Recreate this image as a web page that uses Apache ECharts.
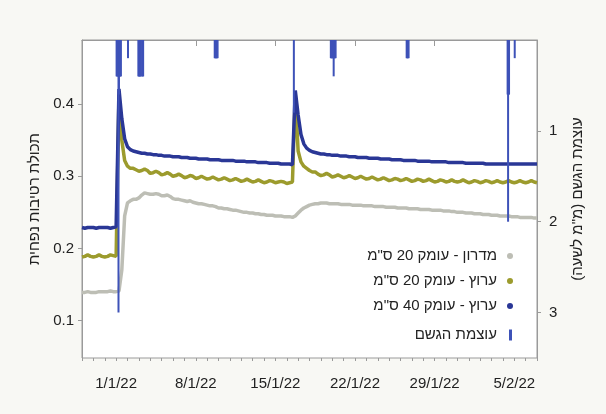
<!DOCTYPE html>
<html><head><meta charset="utf-8">
<script src="https://cdn.jsdelivr.net/npm/echarts/dist/echarts.min.js"></script>
<style>html,body{margin:0;padding:0;background:#f8f8f4;}#c{width:606px;height:414px;}</style>
</head><body><div id="c"></div>
<script>
// 6-hourly samples starting 29/12/2021 00:00 (00,06,12,18 each day), last sample 7/2/2022 00:00
const seriesNames = ['מדרון - עומק 20 ס"מ', 'ערוץ - עומק 20 ס"מ', 'ערוץ - עומק 40 ס"מ'];
const rainName = 'עוצמת הגשם';

const slope20 = [
0.139,0.139,0.140,0.139, 0.139,0.139,0.140,0.140, 0.140,0.140,0.141,0.140,
0.140,0.141,0.170,0.245, 0.263,0.266,0.268,0.268, 0.270,0.274,0.277,0.276,
0.275,0.275,0.276,0.275, 0.273,0.273,0.274,0.272, 0.269,0.268,0.268,0.267,
0.266,0.265,0.266,0.264, 0.263,0.262,0.262,0.261, 0.260,0.259,0.259,0.258,
0.256,0.256,0.255,0.255, 0.254,0.253,0.253,0.252, 0.251,0.250,0.250,0.249,
0.249,0.248,0.248,0.247, 0.247,0.246,0.246,0.246, 0.245,0.245,0.245,0.244,
0.244,0.244,0.243,0.245, 0.249,0.253,0.256,0.258, 0.260,0.261,0.262,0.262,
0.263,0.263,0.263,0.262, 0.262,0.262,0.262,0.261, 0.261,0.261,0.261,0.260,
0.260,0.260,0.260,0.259, 0.259,0.259,0.259,0.258, 0.258,0.258,0.258,0.257,
0.257,0.257,0.257,0.256, 0.256,0.256,0.256,0.255, 0.255,0.255,0.255,0.254,
0.254,0.254,0.254,0.253, 0.253,0.253,0.253,0.252, 0.252,0.252,0.251,0.251,
0.250,0.250,0.250,0.249, 0.249,0.249,0.248,0.248, 0.248,0.247,0.247,0.247,
0.246,0.246,0.246,0.245, 0.245,0.245,0.245,0.244, 0.244,0.244,0.243,0.243,
0.243,0.243,0.243,0.242, 0.242];

const channel20 = [
0.188,0.189,0.191,0.189, 0.188,0.189,0.191,0.189, 0.188,0.189,0.191,0.190,
0.189,0.413,0.350,0.322, 0.314,0.311,0.311,0.309, 0.307,0.308,0.310,0.308,
0.304,0.305,0.307,0.305, 0.302,0.303,0.305,0.303, 0.300,0.301,0.303,0.301,
0.298,0.299,0.301,0.300, 0.297,0.298,0.300,0.298, 0.296,0.297,0.299,0.297,
0.295,0.296,0.298,0.296, 0.294,0.295,0.297,0.295, 0.293,0.294,0.296,0.294,
0.292,0.293,0.295,0.293, 0.291,0.292,0.294,0.293, 0.291,0.292,0.293,0.292,
0.290,0.291,0.292,0.413, 0.335,0.320,0.314,0.311, 0.308,0.306,0.306,0.303,
0.301,0.302,0.304,0.302, 0.299,0.300,0.302,0.300, 0.298,0.299,0.301,0.299,
0.297,0.298,0.300,0.298, 0.296,0.297,0.299,0.297, 0.295,0.296,0.298,0.296,
0.294,0.295,0.297,0.296, 0.294,0.295,0.297,0.295, 0.293,0.294,0.296,0.295,
0.293,0.294,0.296,0.294, 0.292,0.293,0.295,0.294, 0.292,0.293,0.295,0.293,
0.292,0.293,0.295,0.293, 0.291,0.292,0.294,0.293, 0.291,0.292,0.294,0.293,
0.291,0.292,0.294,0.292, 0.291,0.292,0.294,0.292, 0.291,0.292,0.294,0.292,
0.291,0.292,0.294,0.292, 0.291];

const channel40 = [
0.229,0.228,0.229,0.229, 0.229,0.228,0.229,0.229, 0.229,0.229,0.228,0.229,
0.230,0.421,0.380,0.352, 0.341,0.337,0.335,0.334, 0.333,0.332,0.332,0.331,
0.331,0.330,0.330,0.329, 0.329,0.328,0.328,0.328, 0.327,0.327,0.327,0.326,
0.326,0.326,0.325,0.325, 0.325,0.324,0.324,0.324, 0.324,0.323,0.323,0.323,
0.323,0.322,0.322,0.322, 0.322,0.322,0.321,0.321, 0.321,0.321,0.320,0.320,
0.320,0.320,0.319,0.319, 0.319,0.319,0.318,0.318, 0.318,0.318,0.317,0.317,
0.317,0.317,0.316,0.419, 0.385,0.358,0.345,0.339, 0.336,0.334,0.333,0.332,
0.331,0.331,0.330,0.330, 0.329,0.329,0.329,0.328, 0.328,0.328,0.327,0.327,
0.327,0.326,0.326,0.326, 0.326,0.325,0.325,0.325, 0.325,0.324,0.324,0.324,
0.324,0.323,0.323,0.323, 0.323,0.322,0.322,0.322, 0.322,0.322,0.321,0.321,
0.321,0.321,0.321,0.320, 0.320,0.320,0.320,0.320, 0.320,0.319,0.319,0.319,
0.319,0.319,0.319,0.318, 0.318,0.318,0.318,0.318, 0.318,0.318,0.317,0.317,
0.317,0.317,0.317,0.317, 0.317,0.317,0.317,0.317, 0.317,0.317,0.317,0.317,
0.317,0.317,0.317,0.317, 0.317];

const rainTimes = [
'2022-01-01 01:00','2022-01-01 02:00','2022-01-01 03:00','2022-01-01 04:00','2022-01-01 05:00',
'2022-01-01 06:00','2022-01-01 07:00','2022-01-01 08:00','2022-01-01 09:00','2022-01-01 10:00',
'2022-01-02 01:00',
'2022-01-02 23:00','2022-01-03 00:00','2022-01-03 01:00','2022-01-03 02:00','2022-01-03 03:00','2022-01-03 04:00',
'2022-01-03 07:00','2022-01-03 08:00','2022-01-03 09:00',
'2022-01-09 16:00','2022-01-09 17:00','2022-01-09 18:00','2022-01-09 19:00','2022-01-09 20:00','2022-01-09 21:00','2022-01-09 22:00',
'2022-01-16 15:00',
'2022-01-19 21:00','2022-01-19 22:00','2022-01-19 23:00','2022-01-20 00:00','2022-01-20 01:00','2022-01-20 02:00',
'2022-01-20 03:00','2022-01-20 04:00','2022-01-20 05:00','2022-01-20 06:00','2022-01-20 07:00',
'2022-01-26 13:00','2022-01-26 14:00','2022-01-26 15:00','2022-01-26 16:00','2022-01-26 17:00',
'2022-02-04 10:00','2022-02-04 11:00','2022-02-04 12:00','2022-02-04 13:00',
'2022-02-05 01:00'];
const rainValues = [
0.4,0.4,0.4,0.4,3.0,
0.6,0.4,0.4,0.4,0.4,
0.2,
0.4,0.4,0.4,0.4,0.4,0.4,
0.4,0.4,0.4,
0.2,0.2,0.2,0.2,0.2,0.2,0.2,
0.8,
0.2,0.2,0.2,0.2,0.2,0.2,
0.4,0.2,0.2,0.2,0.2,
0.2,0.2,0.2,0.2,0.2,
0.6,2.0,0.6,0.6,
0.2];

const leftTicks = [0.1, 0.2, 0.3, 0.4];
const rightTicks = [1, 2, 3];
const dateLabels = ['2022-01-01','2022-01-08','2022-01-15','2022-01-22','2022-01-29','2022-02-05'];

const START = new Date(2021, 11, 29).getTime();
const END = new Date(2022, 1, 7).getTime();
const STEP = 6 * 3600 * 1000;
const DAY = 24 * 3600 * 1000;
const ts = s => { const [d, t] = s.split(' '); const [y, m, dd] = d.split('-').map(Number); const [hh, mm] = (t || '00:00').split(':').map(Number); return new Date(y, m - 1, dd, hh, mm).getTime(); };
const toPairs = arr => arr.map((v, i) => [START + i * STEP, v]);
const majorTicks = dateLabels.map(ts);
const dayTicks = []; for (let t = START; t <= END; t += DAY) dayTicks.push(t);

const FONT = 'Liberation Sans';
const TXT = '#222';
const AX = '#9a9a9a';
const RLM = '\u200F';

const chart = echarts.init(document.getElementById('c'), null, {renderer: 'canvas'});
chart.setOption({
  animation: false,
  backgroundColor: '#f8f8f4',
  textStyle: {fontFamily: FONT},
  grid: {left: 82, right: 69, top: 40, bottom: 56, show: true, backgroundColor: '#ffffff', borderColor: AX, borderWidth: 1},
  legend: [{
    data: seriesNames, orient: 'vertical', right: 88, top: 242, align: 'right', icon: 'circle',
    itemWidth: 6, itemHeight: 6, itemGap: 7,
    textStyle: {fontFamily: FONT, fontSize: 15, color: TXT, lineHeight: 18, padding: [0, 5, 0, 0]}
  }, {
    data: [rainName], orient: 'vertical', right: 89, top: 321, align: 'right', icon: 'rect',
    itemWidth: 3, itemHeight: 11,
    textStyle: {fontFamily: FONT, fontSize: 15, color: TXT, lineHeight: 18, padding: [0, 7, 0, 0]}
  }],
  xAxis: [{
    type: 'value', min: START, max: END, scale: true,
    axisLine: {lineStyle: {color: AX}},
    axisTick: {show: true, length: 6, lineStyle: {color: AX}, customValues: majorTicks},
    axisLabel: {customValues: majorTicks, color: TXT, fontSize: 15, fontFamily: FONT, margin: 18,
      formatter: v => { const d = new Date(v); return d.getDate() + '/' + (d.getMonth() + 1) + '/' + String(d.getFullYear()).slice(2); }},
    splitLine: {show: false}
  }, {
    type: 'value', min: START, max: END, scale: true, position: 'bottom',
    axisLine: {show: false},
    axisTick: {show: true, length: 3, lineStyle: {color: AX}, customValues: dayTicks},
    axisLabel: {show: false},
    splitLine: {show: false}
  }],
  yAxis: [{
    type: 'value', min: 0.048, max: 0.489, position: 'left',
    name: 'תכולת רטיבות נפחית', nameLocation: 'middle', nameGap: 36, nameRotate: 90,
    nameTextStyle: {fontFamily: FONT, fontSize: 15, color: TXT},
    axisLine: {show: true, lineStyle: {color: AX}},
    axisTick: {show: true, length: 4, lineStyle: {color: AX}, customValues: leftTicks},
    axisLabel: {customValues: leftTicks, color: TXT, fontSize: 15, fontFamily: FONT, margin: 8, formatter: v => v.toFixed(1)},
    splitLine: {show: false}
  }, {
    type: 'value', min: 0, max: 3.5, inverse: true, position: 'right',
    name: RLM + 'עוצמת הגשם (מ"מ לשעה)' + RLM, nameLocation: 'middle', nameGap: 33, nameRotate: 90,
    nameTextStyle: {fontFamily: FONT, fontSize: 15, color: TXT},
    axisLine: {show: true, lineStyle: {color: AX}},
    axisTick: {show: true, length: 4, lineStyle: {color: AX}, customValues: rightTicks},
    axisLabel: {customValues: rightTicks, color: TXT, fontSize: 15, fontFamily: FONT, margin: 12},
    splitLine: {show: false}
  }],
  series: [{
    name: seriesNames[0], type: 'line', data: toPairs(slope20), showSymbol: false, symbol: 'circle',
    lineStyle: {width: 3.5, color: '#bdbeb5'}, itemStyle: {color: '#bdbeb5'}, z: 2
  }, {
    name: seriesNames[1], type: 'line', data: toPairs(channel20), showSymbol: false, symbol: 'circle',
    lineStyle: {width: 3.5, color: '#9c9b2d'}, itemStyle: {color: '#9c9b2d'}, z: 3
  }, {
    name: seriesNames[2], type: 'line', data: toPairs(channel40), showSymbol: false, symbol: 'circle',
    lineStyle: {width: 3.5, color: '#2a3796'}, itemStyle: {color: '#2a3796'}, z: 4
  }, {
    name: rainName, type: 'bar', yAxisIndex: 1, barWidth: 2,
    data: rainTimes.map((t, i) => [ts(t), rainValues[i]]),
    itemStyle: {color: '#3e52b8'}, z: 5
  }]
});
</script></body></html>
